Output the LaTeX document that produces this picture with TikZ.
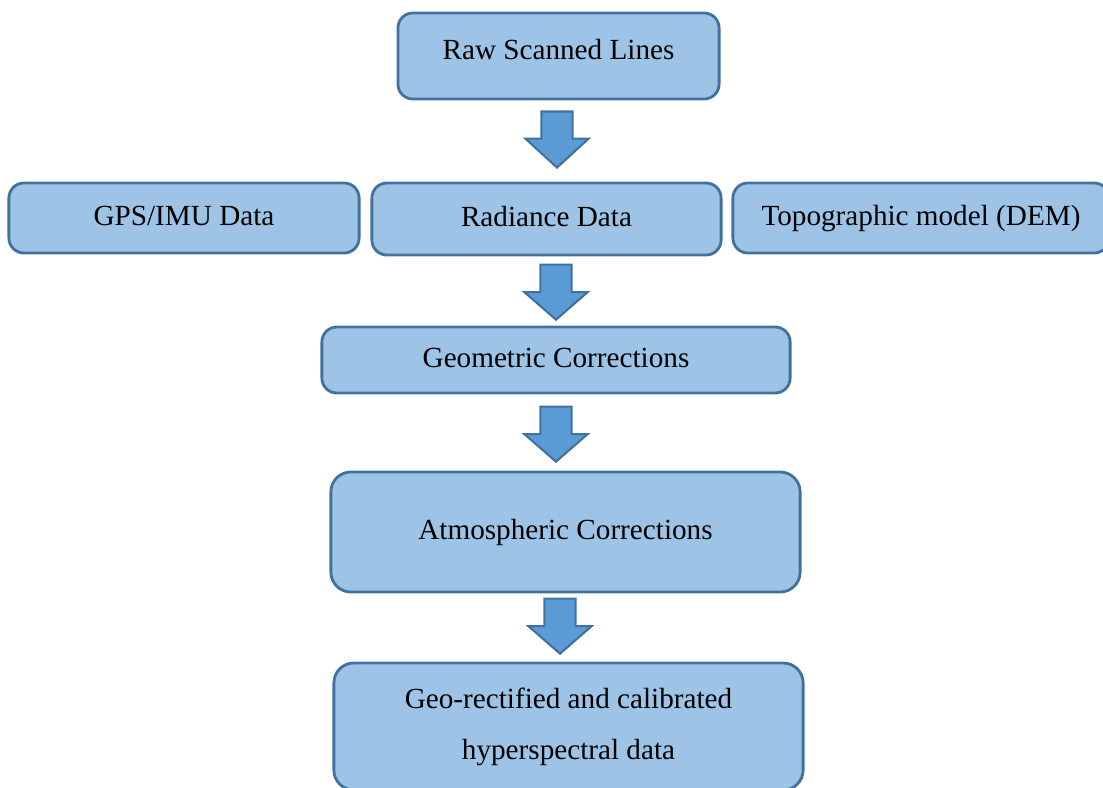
\documentclass[tikz,border=0pt]{standalone}
\usepackage{fontspec}
\setmainfont{Liberation Serif}
\usetikzlibrary{shapes.arrows}
\definecolor{boxfill}{HTML}{9DC3E6}
\definecolor{boxline}{HTML}{41719C}
\definecolor{arrowfill}{HTML}{5B9BD5}

\begin{document}
\begin{tikzpicture}[x=0.01cm, y=-0.01cm,
    stage/.style={draw=boxline, fill=boxfill, line width=0.8pt, rounded corners=0.15cm, inner sep=0pt, font=\fontsize{8.3}{14.5}\selectfont},
    oneline/.style={stage, text height=0.2cm, text depth=0.06cm},
    bigarrow/.style={single arrow, draw=boxline, fill=arrowfill, line width=0.6pt, rotate=-90, anchor=tip, minimum height=0.55cm, minimum width=0.62cm, single arrow head extend=0.16cm, single arrow tip angle=98, inner xsep=0pt, inner ysep=0.145cm}]
    \useasboundingbox (0,0) rectangle (1103,787);

    \node[oneline, minimum width=3.21cm, minimum height=0.86cm, text depth=0.14cm] (raw) at (558.5,56) {Raw Scanned Lines};
    \node[oneline, minimum width=3.5cm, minimum height=0.7cm] (gps) at (184,218) {GPS/IMU Data};
    \node[oneline, minimum width=3.49cm, minimum height=0.72cm] (rad) at (546.5,219) {Radiance Data};
    \node[oneline, minimum width=3.76cm, minimum height=0.7cm] (dem) at (921,218) {Topographic model (DEM)};
    \node[oneline, minimum width=4.68cm, minimum height=0.66cm] (geom) at (556,360) {Geometric Corrections};
    \node[oneline, minimum width=4.69cm, minimum height=1.2cm, rounded corners=0.2cm] (atm) at (565.5,532) {Atmospheric Corrections};
    \node[stage, align=center, minimum width=4.69cm, minimum height=1.27cm, rounded corners=0.2cm] (out) at (568.5,726.5) {Geo-rectified and calibrated\\hyperspectral data};

    \node[bigarrow, minimum height=0.56cm, single arrow tip angle=95] (a1) at (557,169) {};
    \node[bigarrow] (a2) at (556,321) {};
    \node[bigarrow] (a3) at (556,463) {};
    \node[bigarrow] (a4) at (560,655) {};
\end{tikzpicture}
\end{document}
